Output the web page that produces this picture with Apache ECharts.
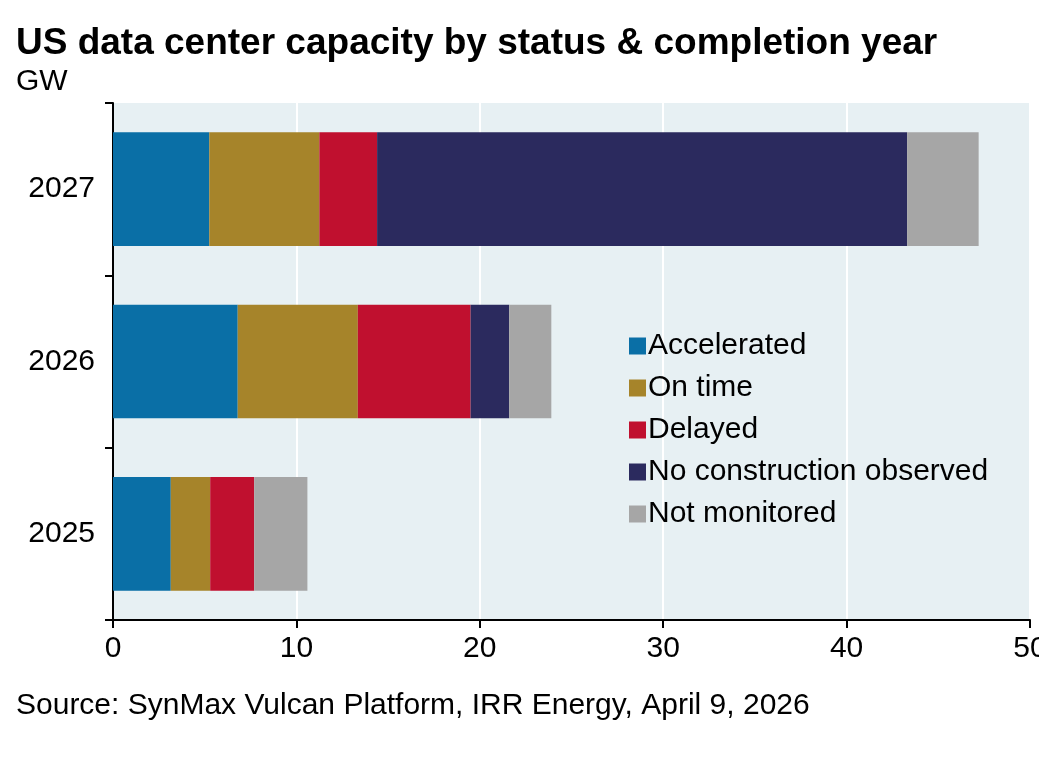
<!DOCTYPE html>
<html><head><meta charset="utf-8">
<script src="https://cdn.jsdelivr.net/npm/echarts@6/dist/echarts.min.js"></script>
<style>html,body{margin:0;background:#fff;overflow:hidden}#c{width:1039px;height:767px}</style>
</head><body><div id="c"></div>
<script>
const categories = ['2025','2026','2027'];
const accelerated = [3.15, 6.8, 5.25];
const onTime = [2.15, 6.55, 6.0];
const delayed = [2.4, 6.15, 3.15];
const noConstruction = [0, 2.1, 28.9];
const notMonitored = [2.9, 2.3, 3.9];
const xTicks = [0,10,20,30,40,50];
const names = ['Accelerated','On time','Delayed','No construction observed','Not monitored'];
const colors = ['#0a6fa6','#a6842a','#c0102f','#2b2a5e','#a6a6a6'];
const vals = [accelerated,onTime,delayed,noConstruction,notMonitored];
const chart = echarts.init(document.getElementById('c'));
const F = 'Liberation Sans, Arial, sans-serif';
chart.setOption({
  animation:false,
  textStyle:{fontFamily:F},
  title:[{text:'US data center capacity by status & completion year',left:11,top:20,textStyle:{fontSize:37,fontWeight:'bold',color:'#000',fontFamily:F}},
         {text:'GW',left:11,top:62,textStyle:{fontSize:30,fontWeight:'normal',color:'#000',fontFamily:F}},
         {text:'Source: SynMax Vulcan Platform, IRR Energy, April 9, 2026',left:11,top:686,textStyle:{fontSize:30,fontWeight:'normal',color:'#000',fontFamily:F}}],
  grid:{left:113,top:103,right:9,bottom:147,show:true,backgroundColor:'#e7f0f3',borderWidth:0,outerBoundsMode:'none'},
  legend:{orient:'vertical',left:624,top:326,itemWidth:17,itemHeight:17,itemGap:12,icon:'rect',
    textStyle:{fontSize:30,color:'#000',fontFamily:F,padding:[0,0,0,-3]},data:names},
  xAxis:{type:'value',min:0,max:50,interval:10,
    axisLine:{show:true,lineStyle:{color:'#000',width:2}},
    axisTick:{show:true,length:8,lineStyle:{color:'#000',width:2}},
    axisLabel:{fontSize:30,color:'#000',margin:14,formatter:v=>xTicks.includes(v)?String(v):''},
    splitLine:{show:true,lineStyle:{color:'#fff',width:2}}},
  yAxis:{type:'category',data:categories,
    axisLine:{show:true,lineStyle:{color:'#000',width:2}},
    axisTick:{show:true,length:8,lineStyle:{color:'#000',width:2}},
    axisLabel:{fontSize:30,color:'#000',margin:18}},
  series:vals.map((d,i)=>({name:names[i],type:'bar',stack:'a',data:d,barCategoryGap:'34%',itemStyle:{color:colors[i]}}))
});
</script></body></html>
